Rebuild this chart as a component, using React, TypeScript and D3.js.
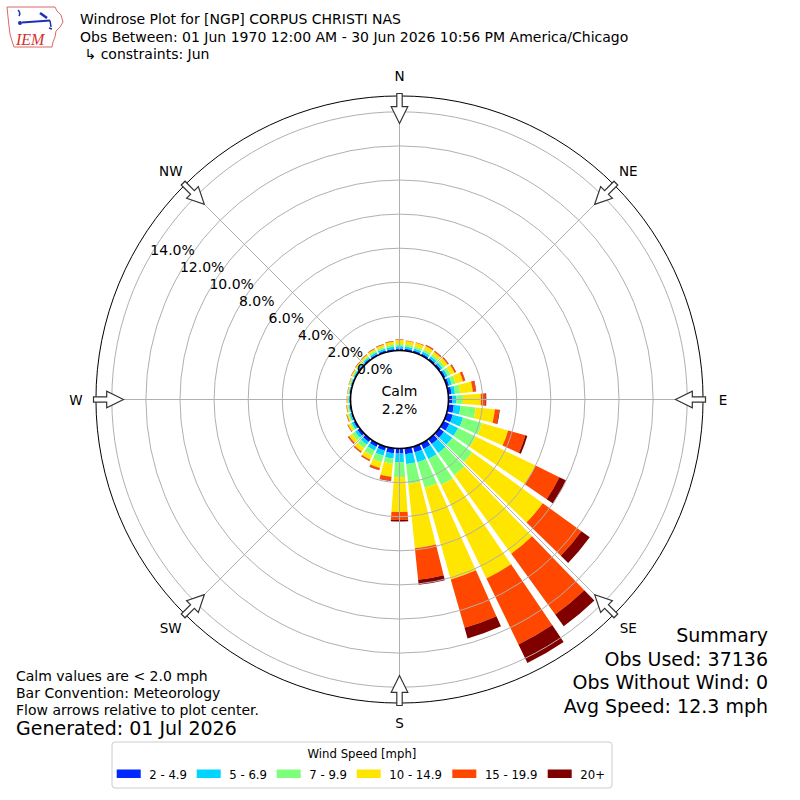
import * as d3 from "d3";

// wind direction bins (degrees, meteorological "from")
const directions = [0, 10, 20, 30, 40, 50, 60, 70, 80, 90, 100, 110, 120, 130, 140, 150, 160, 170,
  180, 190, 200, 210, 220, 230, 240, 250, 260, 270, 280, 290, 300, 310, 320, 330, 340, 350];

const speedBins = ["2 - 4.9", "5 - 6.9", "7 - 9.9", "10 - 14.9", "15 - 19.9", "20+"];
const speedColors = ["#0028ff", "#00d4ff", "#7dff7a", "#ffe600", "#ff4700", "#800000"];

// percent of observations per direction, one array per speed bin
const pct2to5 = [0.12, 0.12, 0.12, 0.12, 0.12, 0.12, 0.13, 0.15, 0.20, 0.23, 0.33, 0.38, 0.38, 0.35, 0.35, 0.35, 0.35, 0.35,
  0.30, 0.30, 0.25, 0.22, 0.20, 0.18, 0.12, 0.08, 0.07, 0.06, 0.06, 0.06, 0.07, 0.08, 0.09, 0.10, 0.11, 0.11];
const pct5to7 = [0.13, 0.12, 0.12, 0.13, 0.13, 0.13, 0.14, 0.17, 0.20, 0.24, 0.40, 0.62, 0.57, 0.60, 0.65, 0.65, 0.60, 0.58,
  0.50, 0.30, 0.30, 0.23, 0.20, 0.17, 0.13, 0.09, 0.06, 0.06, 0.05, 0.06, 0.07, 0.08, 0.09, 0.10, 0.11, 0.12];
const pct7to10 = [0.13, 0.12, 0.12, 0.13, 0.13, 0.15, 0.18, 0.23, 0.30, 0.38, 0.89, 1.15, 1.15, 1.45, 1.60, 1.70, 1.55, 1.17,
  0.88, 0.30, 0.40, 0.33, 0.25, 0.20, 0.10, 0.08, 0.05, 0.04, 0.04, 0.05, 0.06, 0.07, 0.08, 0.10, 0.11, 0.12];
const pct10to15 = [0.24, 0.21, 0.22, 0.24, 0.20, 0.22, 0.27, 0.45, 0.75, 1.05, 1.13, 1.60, 3.90, 5.10, 5.70, 6.10, 5.60, 3.80,
  2.04, 0.78, 0.35, 0.27, 0.25, 0.23, 0.13, 0.08, 0.06, 0.04, 0.04, 0.05, 0.07, 0.08, 0.10, 0.12, 0.14, 0.18];
const pct15to20 = [0.03, 0.03, 0.03, 0.06, 0.06, 0.06, 0.08, 0.12, 0.17, 0.27, 0.25, 1.05, 1.55, 2.80, 4.40, 4.30, 2.95, 1.85,
  0.47, 0.22, 0.12, 0.08, 0.07, 0.07, 0.04, 0.03, 0.02, 0.01, 0.01, 0.01, 0.02, 0.02, 0.03, 0.03, 0.03, 0.03];
const pct20up = [0.01, 0.01, 0.01, 0.02, 0.02, 0.02, 0.02, 0.02, 0.03, 0.05, 0.04, 0.12, 0.45, 0.60, 0.85, 1.20, 0.65, 0.30,
  0.09, 0.03, 0.02, 0.02, 0.02, 0.02, 0.01, 0.01, 0.01, 0.01, 0.01, 0.01, 0.01, 0.01, 0.01, 0.01, 0.01, 0.01];

const calmPct = 2.2;
const ringTicks = [0, 2, 4, 6, 8, 10, 12, 14];
const compassLabels = ["N", "NE", "E", "SE", "S", "SW", "W", "NW"];
const compassDegrees = [0, 45, 90, 135, 180, 225, 270, 315];

const titleLines = [
  "Windrose Plot for [NGP] CORPUS CHRISTI NAS",
  "Obs Between: 01 Jun 1970 12:00 AM - 30 Jun 2026 10:56 PM America/Chicago",
  " \u21b3 constraints: Jun",
];
const noteLines = ["Calm values are < 2.0 mph", "Bar Convention: Meteorology", "Flow arrows relative to plot center."];
const generatedText = "Generated: 01 Jul 2026";
const summaryLines = ["Summary", "Obs Used: 37136", "Obs Without Wind: 0", "Avg Speed: 12.3 mph"];

const FONT = "DejaVu Sans";
const LEGEND_FONT = "'DejaVu Sans Condensed', 'DejaVu Sans'";

export default function App() {
  const cx = 399.5;
  const cy = 399.5;
  const r = d3.scaleLinear().domain([0, 14]).range([49, 287.7]);
  const rOuter = r(14.93);

  const keys = ["b0", "b1", "b2", "b3", "b4", "b5"];
  const bins = [pct2to5, pct5to7, pct7to10, pct10to15, pct15to20, pct20up];
  const rows = directions.map((d, i) => {
    const row: Record<string, number> = { dir: d };
    keys.forEach((k, j) => (row[k] = bins[j][i]));
    return row;
  });
  const series = d3.stack<Record<string, number>>().keys(keys)(rows);

  const halfWidth = ((10 * 0.82) / 2) * (Math.PI / 180);
  const arc = d3.arc<any>();
  const toRad = (deg: number) => (deg * Math.PI) / 180;

  // radial labels along bearing 300
  const labelAng = toRad(300);

  // legend layout (swatch x positions)
  const legendX = [116.7, 196.7, 276.7, 356.7, 452.3, 547.7];
  const legendLeft = 112;
  const legendRight = 612;
  const legendCenter = (legendLeft + legendRight) / 2;
  const legendFont = 13;

  return (
    <svg
      width={800}
      height={800}
      style={{ position: "absolute", left: 0, top: 0, background: "white" }}
      fontFamily={FONT}
    >
      {/* logo */}
      <g>
        <path
          d="M7,7 L55,7 L57,11 L61,15 L63,22 L60,27 L56,31 L55,37 L53,42 L52,47 L14,47 L12,41 L10,34 L9,26 L8,17 Z"
          fill="white"
          stroke="#e06666"
          strokeWidth={1}
        />
        <path d="M18,10 Q21,13 19,16" fill="none" stroke="#1f2fb5" strokeWidth={1.5} />
        <line x1={22} y1={22.5} x2={50} y2={20.5} stroke="#1f2fb5" strokeWidth={2} />
        <line x1={40} y1={13} x2={47} y2={18} stroke="#1f2fb5" strokeWidth={2.5} />
        <path d="M50,20.5 L51,27 M49,28 L52,29" fill="none" stroke="#1f2fb5" strokeWidth={1.5} />
        <circle cx={20} cy={23} r={2} fill="#1f2fb5" />
        <text x={16} y={45} fontFamily="Liberation Serif" fontStyle="italic" fontSize={16} fill="#d32f2f">
          IEM
        </text>
      </g>

      {/* title */}
      {titleLines.map((t, i) => (
        <text key={i} x={80} y={24 + i * 17.5} fontSize={14} fill="#000" style={{ whiteSpace: "pre" }}>
          {t}
        </text>
      ))}

      <g transform={`translate(${cx},${cy})`}>
        {/* bars */}
        {series.map((s, si) =>
          s.map((d, di) => (
            <path
              key={`${si}-${di}`}
              d={
                arc({
                  innerRadius: r(d[0]),
                  outerRadius: r(d[1]),
                  startAngle: toRad(directions[di]) - halfWidth,
                  endAngle: toRad(directions[di]) + halfWidth,
                }) || ""
              }
              fill={speedColors[si]}
            />
          ))
        )}

        {/* grid rings */}
        {ringTicks.slice(1).map((t) => (
          <circle key={t} r={r(t)} fill="none" stroke="#b0b0b0" strokeWidth={1} />
        ))}
        {/* spokes */}
        {compassDegrees.map((deg) => (
          <line
            key={deg}
            x1={r(0) * Math.sin(toRad(deg))}
            y1={-r(0) * Math.cos(toRad(deg))}
            x2={rOuter * Math.sin(toRad(deg))}
            y2={-rOuter * Math.cos(toRad(deg))}
            stroke="#b0b0b0"
            strokeWidth={1}
          />
        ))}

        {/* outer frame */}
        <circle r={rOuter} fill="none" stroke="#000" strokeWidth={1} />

        {/* calm circle */}
        <circle r={r(0)} fill="white" stroke="#000" strokeWidth={1.6} />
        <text y={-4} textAnchor="middle" fontSize={14}>
          Calm
        </text>
        <text y={14} textAnchor="middle" fontSize={14}>
          {d3.format(".1f")(calmPct)}%
        </text>

        {/* ring labels */}
        {ringTicks.map((t) => (
          <text
            key={t}
            x={r(t) * Math.sin(labelAng)}
            y={-r(t) * Math.cos(labelAng) - 1}
            fontSize={14}
          >
            {d3.format(".1f")(t)}%
          </text>
        ))}

        {/* flow arrows */}
        {compassDegrees.map((deg) => (
          <path
            key={deg}
            transform={`rotate(${deg})`}
            d="M0,-276 L8.3,-292.8 L2.7,-292.8 L2.7,-306 L-2.7,-306 L-2.7,-292.8 L-8.3,-292.8 Z"
            fill="white"
            stroke="#333"
            strokeWidth={1.2}
            strokeLinejoin="miter"
          />
        ))}

        {/* compass labels */}
        {compassLabels.map((lab, i) => (
          <text
            key={lab}
            x={323.5 * Math.sin(toRad(compassDegrees[i]))}
            y={-323.5 * Math.cos(toRad(compassDegrees[i]))}
            textAnchor="middle"
            dominantBaseline="central"
            fontSize={13.5}
          >
            {lab}
          </text>
        ))}
      </g>

      {/* notes */}
      {noteLines.map((t, i) => (
        <text key={i} x={16} y={681 + i * 17} fontSize={14}>
          {t}
        </text>
      ))}
      <text x={16} y={735} fontSize={19}>
        {generatedText}
      </text>

      {/* summary */}
      {summaryLines.map((t, i) => (
        <text key={i} x={768} y={642 + i * 23.7} fontSize={19} textAnchor="end">
          {t}
        </text>
      ))}

      {/* legend */}
      <rect
        x={legendLeft}
        y={742}
        width={legendRight - legendLeft}
        height={46}
        rx={3}
        fill="white"
        stroke="#cccccc"
        strokeWidth={1}
      />
      <text
        x={legendCenter}
        y={757.5}
        textAnchor="middle"
        fontSize={legendFont}
        fontFamily={LEGEND_FONT}
        fontStretch="condensed"
      >
        Wind Speed [mph]
      </text>
      {speedBins.map((lab, i) => (
        <g key={lab}>
          <rect x={legendX[i]} y={769.5} width={24} height={8.5} fill={speedColors[i]} />
          <text
            x={legendX[i] + 32.6}
            y={778.5}
            fontSize={legendFont}
            fontFamily={LEGEND_FONT}
            fontStretch="condensed"
          >
            {lab}
          </text>
        </g>
      ))}
    </svg>
  );
}
